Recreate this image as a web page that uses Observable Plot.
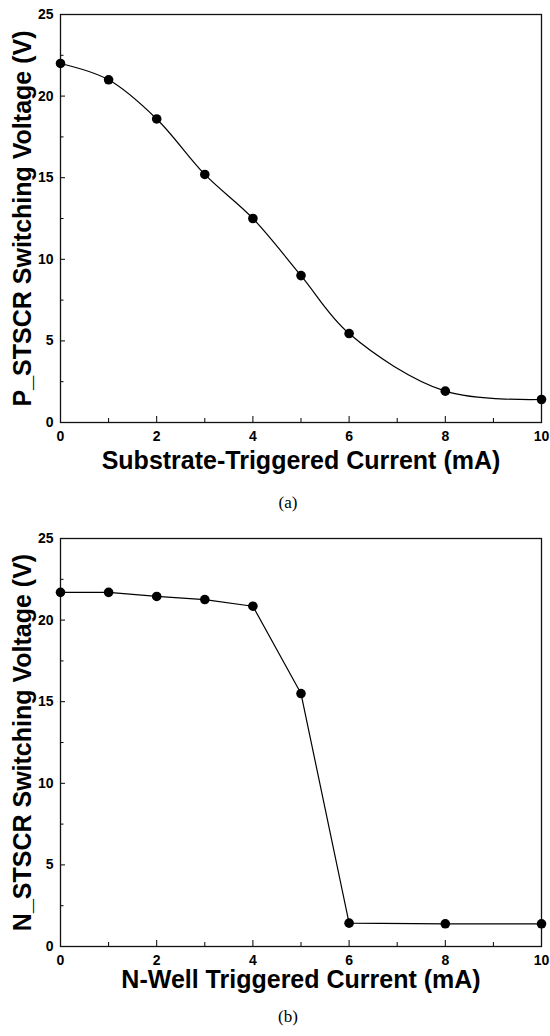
<!DOCTYPE html>
<html>
<head>
<meta charset="utf-8">
<script src="https://cdn.jsdelivr.net/npm/d3@7"></script>
<script src="https://cdn.jsdelivr.net/npm/@observablehq/plot@0.6"></script>
<style>
  html, body { margin: 0; padding: 0; background: #fff; width: 550px; height: 1036px; overflow: hidden; }
  .panel { position: absolute; left: 0; }
  .cap { position: absolute; width: 100px; text-align: center; font-family: "Liberation Serif", serif; font-size: 17px; color: #000; line-height: 1; }
</style>
</head>
<body>
<div id="a" class="panel" style="top:0px"></div>
<div class="cap" style="left:238px; top:494px">(a)</div>
<div id="b" class="panel" style="top:524px"></div>
<div class="cap" style="left:238px; top:1008px">(b)</div>
<script>
// Panel (a): P_STSCR
const currentA = [0, 1, 2, 3, 4, 5, 6, 8, 10];
const voltageA = [22.0, 21.0, 18.6, 15.2, 12.5, 9.0, 5.45, 1.92, 1.41];
// Panel (b): N_STSCR
const currentB = [0, 1, 2, 3, 4, 5, 6, 8, 10];
const voltageB = [21.7, 21.7, 21.45, 21.26, 20.85, 15.5, 1.43, 1.39, 1.39];

const xMajor = [0, 2, 4, 6, 8, 10];
const xMinor = [1, 3, 5, 7, 9];
const yMajor = [0, 5, 10, 15, 20, 25];
const yMinor = [2.5, 7.5, 12.5, 17.5, 22.5];

const titlesA = {x: "Substrate-Triggered Current (mA)", y: "P_STSCR Switching Voltage (V)"};
const titlesB = {x: "N-Well Triggered Current (mA)", y: "N_STSCR Switching Voltage (V)"};

function chart(xs, ys, curve, titles, xTitleDy) {
  const data = xs.map((x, i) => ({x, y: ys[i]}));
  return Plot.plot({
    width: 550,
    height: 480,
    marginTop: 14,
    marginBottom: 58,
    marginLeft: 60,
    marginRight: 9,
    style: {fontFamily: "'Liberation Sans', Arial, sans-serif", fontWeight: "bold", fontSize: "14px", color: "#000", background: "#fff", overflow: "visible"},
    x: {domain: [0, 10], label: null},
    y: {domain: [0, 25], label: null},
    marks: [
      Plot.axisX(xMajor, {tickSize: -6, tickFormat: () => "", strokeWidth: 1, label: null}),
      Plot.axisX(xMinor, {tickSize: -4, tickFormat: () => "", strokeWidth: 1, label: null}),
      Plot.axisX(xMajor, {tickSize: 0, tickPadding: 9, fontSize: 14, fontWeight: "bold", label: null}),
      Plot.axisY(yMajor, {tickSize: -5, tickFormat: () => "", strokeWidth: 1, label: null}),
      Plot.axisY(yMinor, {tickSize: -3.5, tickFormat: () => "", strokeWidth: 1, label: null}),
      Plot.axisY(yMajor, {tickSize: 0, tickPadding: 7, fontSize: 14, fontWeight: "bold", label: null}),
      Plot.frame({stroke: "#111", strokeWidth: 1.3}),
      Plot.line(data, {x: "x", y: "y", curve, stroke: "#000", strokeWidth: 1.2}),
      Plot.dot(data, {x: "x", y: "y", r: 4.8, fill: "#000", stroke: "none"}),
      Plot.text([titles.x], {frameAnchor: "bottom", textAnchor: "middle", dy: xTitleDy, fontSize: 25, fontWeight: "bold", fill: "#000"}),
      Plot.text([titles.y], {frameAnchor: "left", textAnchor: "middle", dx: -38, rotate: -90, fontSize: 25, fontWeight: "bold", fill: "#000"})
    ]
  });
}

document.getElementById("a").append(chart(currentA, voltageA, "catmull-rom", titlesA, 46));
document.getElementById("b").append(chart(currentB, voltageB, "linear", titlesB, 41));
</script>
</body>
</html>
